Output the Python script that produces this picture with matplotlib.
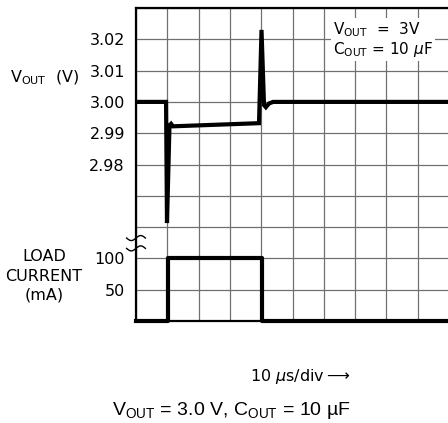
import matplotlib
matplotlib.use('Agg')
import matplotlib.pyplot as plt
import numpy as np

# Time axis (us), 10 us/div
t_v = [0, 9.6, 9.9, 10.7, 11.2, 11.8, 39.3, 40.1, 40.9, 41.5, 42.5, 43.8, 100]
v_out = [3.000, 3.000, 2.9613, 2.9925, 2.9930, 2.9922, 2.9932, 3.023, 2.9990,
         2.9983, 2.9995, 3.000, 3.000]

t_i = [0, 10.2, 10.2, 40.3, 40.3, 100]
i_load = [0, 0, 100, 100, 0, 0]

v_ticks = [2.98, 2.99, 3.00, 3.01, 3.02]
i_ticks = [50, 100]

W, H = 448, 423
fig = plt.figure(figsize=(W / 100, H / 100), dpi=100)
ax = fig.add_axes([136 / W, 1 - 321 / H, 313 / W, 313 / H])

# voltage scale: 10 div x 0.01 V
grid_v = np.round(np.arange(2.93, 3.0301, 0.01), 2)
ax.set_xlim(0, 100)
ax.set_ylim(2.93, 3.03)
ax.set_xticks(np.arange(0, 101, 10))
ax.set_yticks(grid_v)
ax.set_yticklabels(['%.2f' % v if v in v_ticks else '' for v in grid_v])
ax.set_xticklabels([])
ax.grid(True, color='#707070', lw=0.9)
ax.tick_params(length=0, pad=8, labelsize=11.5)
ax.plot(t_v, v_out, color='black', lw=3, solid_joinstyle='miter', zorder=3)

for s in ['top', 'left', 'bottom']:
    ax.spines[s].set_linewidth(1.6)
ax.spines['right'].set_visible(False)

# current scale: 10 div x 50 mA
ax2 = ax.twinx()
ax2.set_ylim(0, 500)
ax2.yaxis.tick_left()
ax2.set_yticks(i_ticks)
ax2.set_yticklabels([str(i) for i in i_ticks])
ax2.tick_params(length=0, pad=8, labelsize=11.5)
for s in ax2.spines.values():
    s.set_visible(False)
ax2.plot(t_i, i_load, color='black', lw=3, clip_on=False, zorder=3)

# axis break marks
xs = np.linspace(-0.03, 0.03, 40)
for yb in [0.265, 0.232]:
    ax.plot(xs, yb + 0.008 * np.sin(xs / 0.03 * np.pi), color='black', lw=1,
            transform=ax.transAxes, clip_on=False)

ax.text(0.63, 0.962, 'V$_{\\mathregular{OUT}}$  =  3V\nC$_{\\mathregular{OUT}}$ = 10 $\\mu$F',
        transform=ax.transAxes, ha='left', va='top', fontsize=11, linespacing=1.1,
        bbox=dict(facecolor='white', edgecolor='none', pad=1.5), zorder=5)

fig.text(10 / W, 1 - 78 / H, 'V$_{\\mathregular{OUT}}$  (V)', fontsize=11.5, va='center', ha='left')
fig.text(44 / W, 1 - 276 / H, 'LOAD\nCURRENT\n(mA)', fontsize=11.5, va='center', ha='center',
         linespacing=1.35)
fig.text(300 / W, 1 - 377 / H, '10 $\\mu$s/div$\\longrightarrow$', fontsize=11.5,
         va='center', ha='center')
fig.text(231 / W, 1 - 410 / H, 'V$_{\\mathregular{OUT}}$ = 3.0 V, C$_{\\mathregular{OUT}}$ = 10 µF',
         fontsize=14, va='center', ha='center', family='Liberation Sans')

fig.savefig('out.png', dpi=100)
